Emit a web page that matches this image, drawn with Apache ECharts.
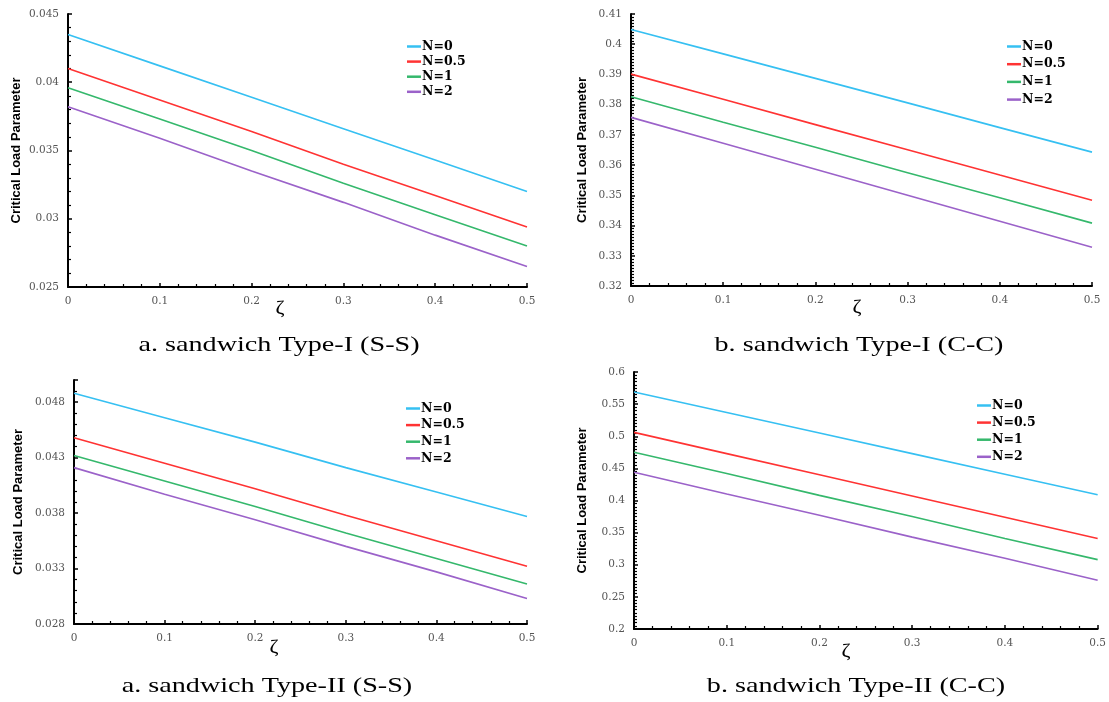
<!DOCTYPE html>
<html>
<head>
<meta charset="utf-8">
<script src="https://cdn.jsdelivr.net/npm/echarts@6/dist/echarts.min.js"></script>
<style>html,body{margin:0;padding:0;background:#fff;}#c{width:1109px;height:702px;}</style>
</head>
<body>
<div id="c"></div>
<script>
// ---- data ----
const xValues = [0, 0.1, 0.2, 0.3, 0.4, 0.5];
const seriesNames = ['N=0', 'N=0.5', 'N=1', 'N=2'];

// a. sandwich Type-I (S-S)
const typeI_SS = {
  'N=0':   [0.0435, 0.0412, 0.0389, 0.0366, 0.0343, 0.0320],
  'N=0.5': [0.0410, 0.0387, 0.0364, 0.0340, 0.0317, 0.0294],
  'N=1':   [0.0396, 0.0373, 0.0350, 0.0326, 0.0303, 0.0280],
  'N=2':   [0.0382, 0.0359, 0.0335, 0.0312, 0.0288, 0.0265]
};
// b. sandwich Type-I (C-C)
const typeI_CC = {
  'N=0':   [0.4049, 0.3968, 0.3887, 0.3806, 0.3724, 0.3643],
  'N=0.5': [0.3901, 0.3818, 0.3734, 0.3651, 0.3567, 0.3484],
  'N=1':   [0.3826, 0.3742, 0.3659, 0.3575, 0.3492, 0.3408],
  'N=2':   [0.3758, 0.3672, 0.3586, 0.3500, 0.3414, 0.3328]
};
// a. sandwich Type-II (S-S)
const typeII_SS = {
  'N=0':   [0.0488, 0.0466, 0.0444, 0.0421, 0.0399, 0.0377],
  'N=0.5': [0.0448, 0.0425, 0.0402, 0.0378, 0.0355, 0.0332],
  'N=1':   [0.0432, 0.0409, 0.0386, 0.0362, 0.0339, 0.0316],
  'N=2':   [0.0421, 0.0397, 0.0374, 0.0350, 0.0327, 0.0303]
};
// b. sandwich Type-II (C-C)
const typeII_CC = {
  'N=0':   [0.569, 0.537, 0.505, 0.473, 0.441, 0.409],
  'N=0.5': [0.506, 0.473, 0.440, 0.407, 0.374, 0.341],
  'N=1':   [0.475, 0.442, 0.408, 0.375, 0.341, 0.308],
  'N=2':   [0.444, 0.410, 0.377, 0.343, 0.310, 0.276]
};

const captions = ['a. sandwich Type-I (S-S)', 'b. sandwich Type-I (C-C)', 'a. sandwich Type-II (S-S)', 'b. sandwich Type-II (C-C)'];
const yAxisTitle = 'Critical Load Parameter';
const xAxisTitle = 'ζ';

// y-axis ranges (min, max, interval, minor split)
const yRanges = [
  {min: 0.025, max: 0.045, interval: 0.005, minor: 5},
  {min: 0.32, max: 0.41, interval: 0.01, minor: 10},
  {min: 0.028, max: 0.05, interval: 0.005, minor: 5},
  {min: 0.2, max: 0.6, interval: 0.05, minor: 10}
];

// ---- layout / style ----
const panels = [typeI_SS, typeI_CC, typeII_SS, typeII_CC];
const colors = {'N=0': '#36C0F2', 'N=0.5': '#FF3333', 'N=1': '#35B86C', 'N=2': '#9B62C9'};
const grids = [
  {left: 68, top: 14, width: 459, height: 273},
  {left: 631, top: 14, width: 461, height: 272},
  {left: 74, top: 380, width: 453, height: 244},
  {left: 634, top: 372, width: 464, height: 257}
];
const nameGaps = [45.5, 42.5, 49.5, 45.5];
const legendPos = [
  {left: 407, top: 40, itemGap: 2.1},
  {left: 1007, top: 40, itemGap: 4.7},
  {left: 406, top: 402, itemGap: 3.6},
  {left: 977, top: 399, itemGap: 4.1}
];
const zetaPos = [[280, 309], [857, 308], [274, 648], [846, 652]];
const captionPos = [[279, 345], [859, 345], [267, 686], [856, 686]];

const serif = "'Liberation Serif', 'DejaVu Serif', serif";
const wideSerif = "'DejaVu Serif', 'Liberation Serif', serif";
const sans = "'Liberation Sans', Arial, sans-serif";

const xAxes = [], yAxes = [], series = [], legends = [], graphics = [];
panels.forEach((p, i) => {
  xAxes.push({
    type: 'value', gridIndex: i, min: 0, max: 0.5, interval: 0.1,
    axisLine: {show: true, onZero: false, lineStyle: {color: '#000', width: 2}},
    axisTick: {show: true, inside: true, length: 4, lineStyle: {color: '#000', width: 1.5}},
    minorTick: {show: true, splitNumber: 5, length: 3, lineStyle: {color: '#000', width: 1.2}},
    splitLine: {show: false},
    axisLabel: {color: '#555', fontFamily: wideSerif, fontSize: 10.5, margin: 9}
  });
  const r = yRanges[i];
  yAxes.push({
    type: 'value', gridIndex: i, min: r.min, max: r.max, interval: r.interval,
    name: yAxisTitle, nameLocation: 'middle', nameGap: nameGaps[i], nameRotate: 90,
    nameTextStyle: {fontFamily: sans, fontWeight: 'bold', fontSize: 13, color: '#000'},
    axisLine: {show: true, onZero: false, lineStyle: {color: '#000', width: 2}},
    axisTick: {show: true, inside: true, length: 4, lineStyle: {color: '#000', width: 1.5}},
    minorTick: {show: true, splitNumber: r.minor, length: 3, lineStyle: {color: '#000', width: 1.2}},
    splitLine: {show: false},
    axisLabel: {color: '#555', fontFamily: wideSerif, fontSize: 10.5, margin: 9, showMaxLabel: i !== 2}
  });
  seriesNames.forEach(n => {
    series.push({
      type: 'line', name: n, xAxisIndex: i, yAxisIndex: i,
      data: xValues.map((x, k) => [x, p[n][k]]),
      symbol: 'none', lineStyle: {color: colors[n], width: 1.6}, itemStyle: {color: colors[n]},
      animation: false
    });
  });
  legends.push({
    data: seriesNames.map(n => ({name: n, icon: 'rect'})),
    orient: 'vertical', left: legendPos[i].left, top: legendPos[i].top,
    itemGap: legendPos[i].itemGap, itemWidth: 14, itemHeight: 2.5, padding: 0,
    textStyle: {fontFamily: wideSerif, fontWeight: 'bold', fontSize: 12.5, lineHeight: 12, color: '#000', padding: [0, 0, 0, -4]}
  });
  graphics.push({
    type: 'text', x: zetaPos[i][0], y: zetaPos[i][1], scaleX: 1.15,
    style: {text: xAxisTitle, font: "19px " + serif, fill: '#000', align: 'center', verticalAlign: 'middle'}
  });
  graphics.push({
    type: 'text', x: captionPos[i][0], y: captionPos[i][1], scaleX: 1.28,
    style: {text: captions[i], font: "22px " + serif, fill: '#000', align: 'center', verticalAlign: 'middle'}
  });
});

const chart = echarts.init(document.getElementById('c'));
chart.setOption({
  backgroundColor: '#fff',
  animation: false,
  grid: grids.map(g => Object.assign({containLabel: false}, g)),
  xAxis: xAxes,
  yAxis: yAxes,
  legend: legends,
  series: series,
  graphic: graphics
});
</script>
</body>
</html>
